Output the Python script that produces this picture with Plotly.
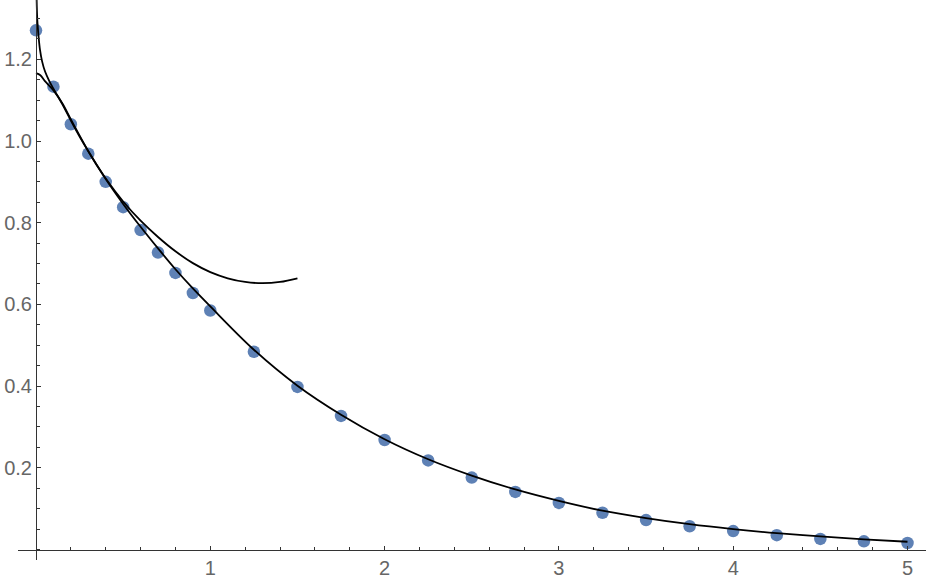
import plotly.graph_objects as go

# data points
x_pts = [0, 0.1, 0.2, 0.3, 0.4, 0.5, 0.6, 0.7, 0.8, 0.9, 1.0,
         1.25, 1.5, 1.75, 2.0, 2.25, 2.5, 2.75, 3.0, 3.25, 3.5, 3.75,
         4.0, 4.25, 4.5, 4.75, 5.0]
y_pts = [1.271, 1.133, 1.041, 0.969, 0.900, 0.838, 0.782, 0.727, 0.677, 0.628, 0.585,
         0.484, 0.398, 0.327, 0.268, 0.218, 0.176, 0.141, 0.114, 0.090, 0.072, 0.057,
         0.045, 0.035, 0.026, 0.020, 0.016]

# fitted curve (whole range)
x_fit = [0, 0.025, 0.05, 0.1, 0.15, 0.2, 0.3, 0.4, 0.5, 0.6, 0.7, 0.8, 0.9, 1.0,
         1.25, 1.5, 1.75, 2.0, 2.25, 2.5, 2.75, 3.0, 3.25, 3.5, 3.75, 4.0, 4.25,
         4.5, 4.75, 5.0]
y_fit = [1.166, 1.161, 1.147, 1.124, 1.093, 1.053, 0.975, 0.907, 0.846, 0.790, 0.737,
         0.686, 0.639, 0.595, 0.489, 0.401, 0.330, 0.270, 0.221, 0.181, 0.147, 0.119,
         0.095, 0.077, 0.062, 0.050, 0.040, 0.032, 0.025, 0.019]

# small-x approximation curve (0 .. 1.5)
x_app = [0.0005, 0.003, 0.0075, 0.015, 0.023, 0.035, 0.052, 0.075, 0.1, 0.15, 0.2,
         0.25, 0.3, 0.4, 0.5, 0.6, 0.7, 0.8, 0.9, 1.0, 1.1, 1.2, 1.3, 1.4, 1.5]
y_app = [1.50, 1.36, 1.296, 1.255, 1.223, 1.195, 1.170, 1.148, 1.128, 1.091, 1.050,
         1.011, 0.975, 0.908, 0.852, 0.805, 0.765, 0.730, 0.701, 0.679, 0.664, 0.655,
         0.652, 0.655, 0.664]

x_ticks = [1, 2, 3, 4, 5]
x_labels = ["1", "2", "3", "4", "5"]
y_ticks = [0.2, 0.4, 0.6, 0.8, 1.0, 1.2]
y_labels = ["0.2", "0.4", "0.6", "0.8", "1.0", "1.2"]

W, H = 926, 581
X0PX, XSCALE = 36, 174.3
Y0PX, YSCALE = 549.5, 408.5
XLEFT, YBOT = 18, 560

fig = go.Figure()
fig.add_trace(go.Scatter(x=x_pts, y=y_pts, mode="markers",
                         marker=dict(size=12.5, color="#5E81B5", line=dict(width=0)),
                         showlegend=False, cliponaxis=False))
fig.add_trace(go.Scatter(x=x_fit, y=y_fit, mode="lines",
                         line=dict(color="black", width=1.8, shape="spline", smoothing=1.0),
                         showlegend=False))
fig.add_trace(go.Scatter(x=x_app, y=y_app, mode="lines",
                         line=dict(color="black", width=1.8, shape="spline", smoothing=1.0),
                         showlegend=False))

axcol = "#333333"
labfont = dict(family="Liberation Sans, Arial, sans-serif", size=20, color="#666666")

fig.update_layout(
    width=W, height=H,
    margin=dict(l=0, r=0, t=0, b=0),
    paper_bgcolor="white", plot_bgcolor="white",
    xaxis=dict(
        domain=[XLEFT / W, 1],
        range=[(XLEFT - X0PX) / XSCALE, (W - X0PX) / XSCALE],
        anchor="free", position=(H - Y0PX) / H,
        showgrid=False, zeroline=False,
        showline=True, linecolor=axcol, linewidth=1,
        ticks="inside", ticklen=4, tickwidth=1, tickcolor=axcol,
        tickvals=x_ticks, ticktext=x_labels, tickfont=labfont,
        minor=dict(dtick=0.2, tick0=0, ticks="inside", ticklen=2.5, tickcolor=axcol, showgrid=False),
    ),
    yaxis=dict(
        domain=[(H - YBOT) / H, 1],
        range=[(Y0PX - YBOT) / YSCALE, Y0PX / YSCALE],
        anchor="free", position=X0PX / W,
        showgrid=False, zeroline=False,
        showline=True, linecolor=axcol, linewidth=1,
        ticks="inside", ticklen=4, tickwidth=1, tickcolor=axcol,
        tickvals=y_ticks, ticktext=y_labels, tickfont=labfont,
        minor=dict(dtick=0.05, tick0=0, ticks="inside", ticklen=2.5, tickcolor=axcol, showgrid=False),
    ),
)

fig.write_html("out.html",
               config={"displayModeBar": False},
               post_script="document.body.style.margin='0';document.body.style.padding='0';document.body.style.overflow='hidden';")
